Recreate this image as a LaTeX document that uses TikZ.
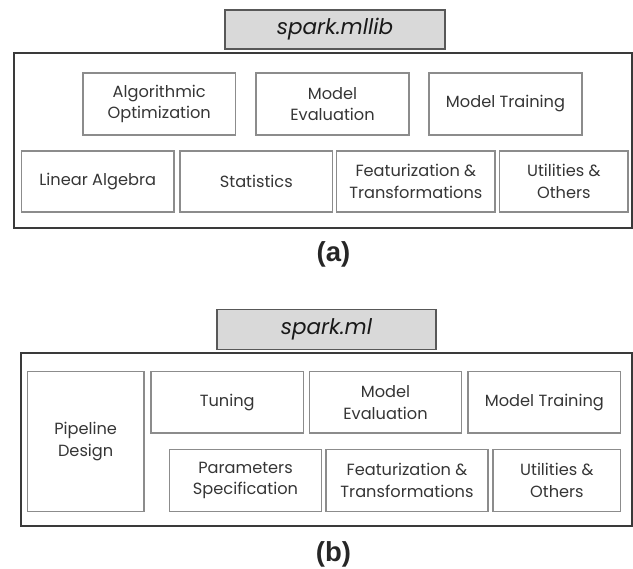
\documentclass[tikz,border=0pt]{standalone}
\usepackage{fontspec}
\setmainfont{Poppins}
\newfontfamily\capfont{Liberation Sans}
\definecolor{txtgray}{HTML}{353535}
\definecolor{boxgray}{HTML}{8C8C8C}
\definecolor{outgray}{HTML}{3A3A3A}
\definecolor{titlefill}{HTML}{D9D9D9}
\begin{document}
\begin{tikzpicture}[x=1pt,y=-1pt,
  inbox/.style={draw=boxgray, line width=1.1pt, inner sep=0pt, align=center,
    text=txtgray, font=\fontsize{16.2}{21.7}\selectfont},
  outerbox/.style={draw=outgray, line width=1.8pt, inner sep=0pt},
  titlebox/.style={draw=outgray!85, line width=1.3pt, fill=titlefill, inner sep=0pt,
    text=black!90, font=\fontsize{21.5}{24}\selectfont\itshape},
  caption/.style={inner sep=0pt, font=\capfont\bfseries\fontsize{27.5}{30}\selectfont, text=black!85}
]
\useasboundingbox (0,0) rectangle (633,569);
% ---------------- panel (a)
\node[outerbox, minimum width=618pt, minimum height=175pt] (outerA) at (323,140.5) {};
\node[titlebox, minimum width=220pt, minimum height=39pt] (titleA) at (335,29.5) {spark.mllib};
\node[inbox, minimum width=152.5pt, minimum height=62pt] (algo) at (159.25,104) {Algorithmic\\Optimization};
\node[inbox, minimum width=153pt, minimum height=62pt] (evalA) at (332.5,104) {Model\\Evaluation};
\node[inbox, minimum width=153pt, minimum height=62pt] (trainA) at (505.5,104) {Model Training};
\node[inbox, minimum width=152.5pt, minimum height=61pt] (linalg) at (97.75,181.5) {Linear Algebra};
\node[inbox, minimum width=152.6pt, minimum height=61pt] (stats) at (256.3,181.5) {Statistics};
\node[inbox, minimum width=158.3pt, minimum height=61pt] (featA) at (415.85,181.5) {Featurization \&\\Transformations};
\node[inbox, minimum width=128.3pt, minimum height=61pt] (utilA) at (563.85,181.5) {Utilities \&\\Others};
\node[caption] (capA) at (333.5,254) {(a)};
% ---------------- panel (b)
\node[outerbox, minimum width=611.3pt, minimum height=173pt] (outerB) at (326.35,439.2) {};
\node[titlebox, minimum width=219pt, minimum height=39.8pt] (titleB) at (326.5,329.4) {spark.ml};
\node[inbox, minimum width=116.7pt, minimum height=140pt] (pipe) at (85.65,441.7) {Pipeline\\Design};
\node[inbox, minimum width=152.4pt, minimum height=61.3pt] (tuning) at (227.2,402.35) {Tuning};
\node[inbox, minimum width=151.8pt, minimum height=61.3pt] (evalB) at (385.5,402.35) {Model\\Evaluation};
\node[inbox, minimum width=152.8pt, minimum height=61.3pt] (trainB) at (544.4,402.35) {Model Training};
\node[inbox, minimum width=152.4pt, minimum height=62.2pt] (params) at (245.5,480.4) {Parameters\\Specification};
\node[inbox, minimum width=162pt, minimum height=62.2pt] (featB) at (407,480.4) {Featurization \&\\Transformations};
\node[inbox, minimum width=127.8pt, minimum height=62.2pt] (utilB) at (556.9,480.4) {Utilities \&\\Others};
\node[caption] (capB) at (333.5,554) {(b)};
\end{tikzpicture}
\end{document}
